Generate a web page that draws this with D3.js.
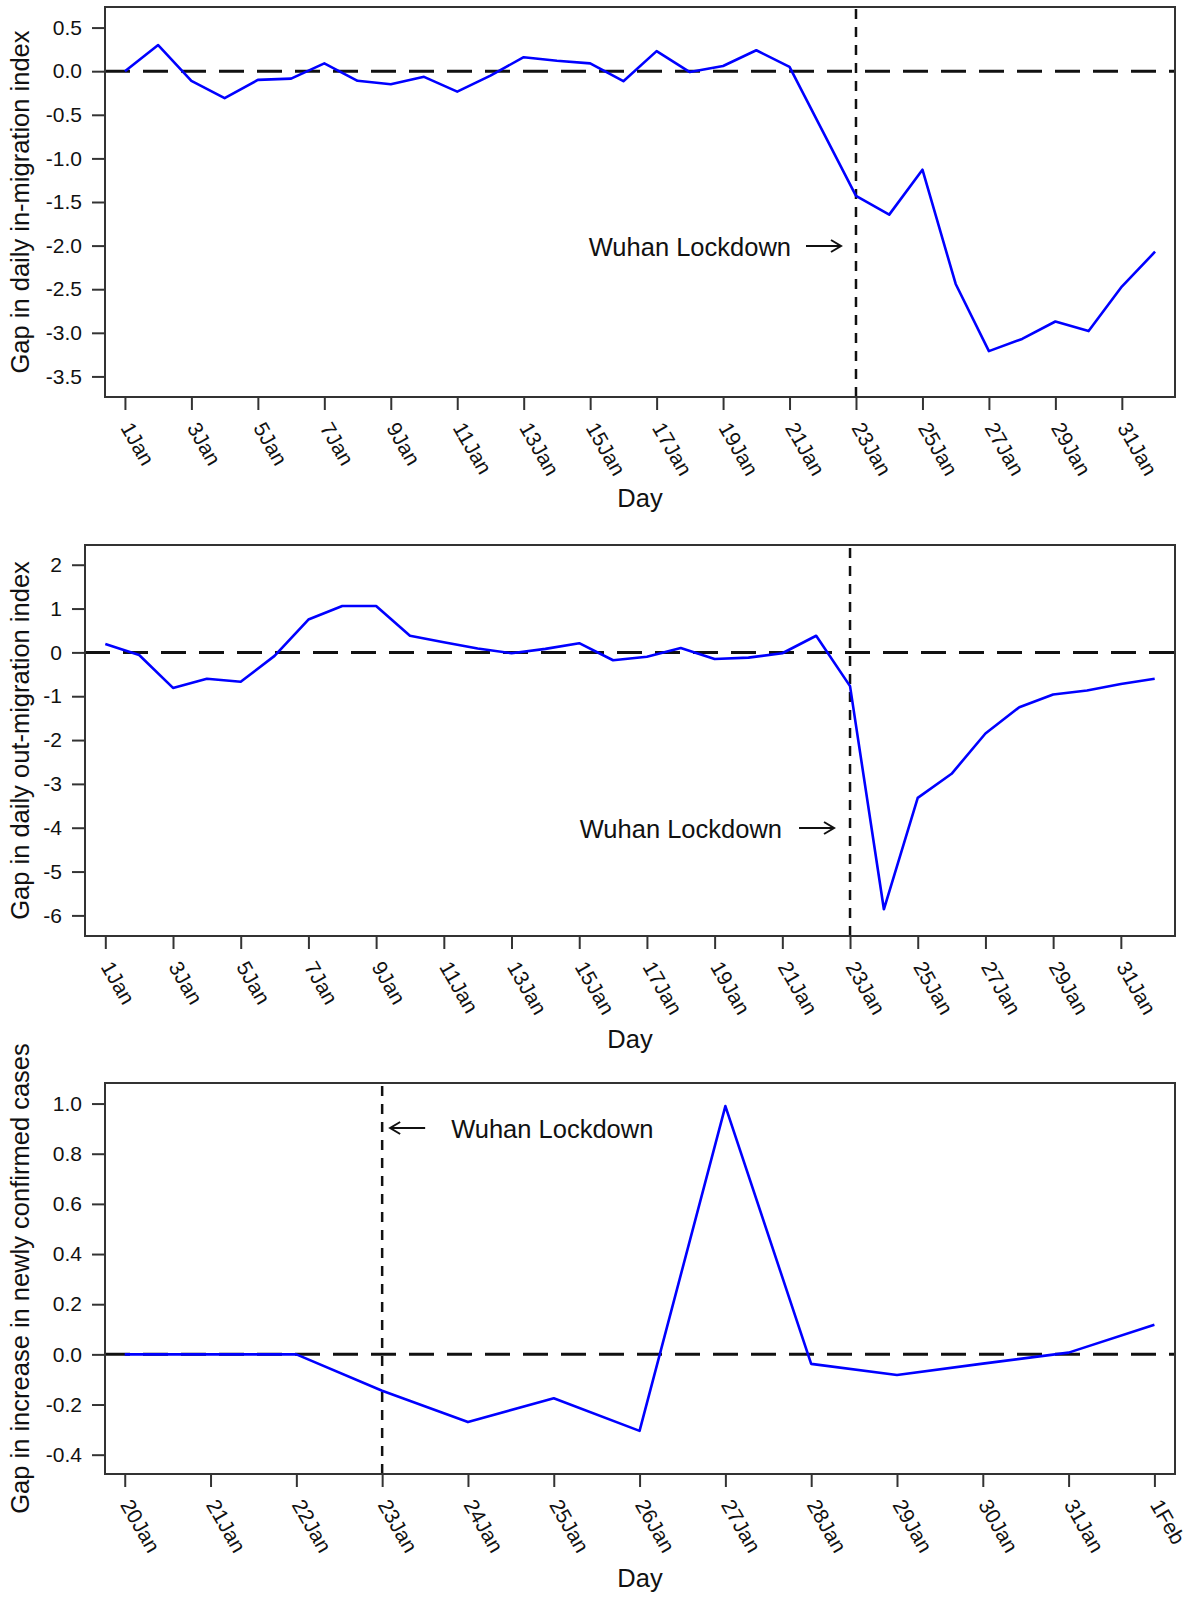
<!DOCTYPE html>
<html>
<head>
<meta charset="utf-8">
<script src="https://cdn.jsdelivr.net/npm/d3@7"></script>
<style>
  html, body { margin: 0; padding: 0; background: #fff; }
  svg { display: block; font-family: "Liberation Sans", Arial, sans-serif; }
</style>
</head>
<body>
<svg id="chart" width="1192" height="1597"></svg>
<script>
// ---------- DATA ----------
const janDays = ["1Jan","2Jan","3Jan","4Jan","5Jan","6Jan","7Jan","8Jan","9Jan","10Jan",
  "11Jan","12Jan","13Jan","14Jan","15Jan","16Jan","17Jan","18Jan","19Jan","20Jan",
  "21Jan","22Jan","23Jan","24Jan","25Jan","26Jan","27Jan","28Jan","29Jan","30Jan","31Jan","1Feb"];
const janTickLabels = ["1Jan","3Jan","5Jan","7Jan","9Jan","11Jan","13Jan","15Jan",
  "17Jan","19Jan","21Jan","23Jan","25Jan","27Jan","29Jan","31Jan"];

const inMigrationGap = [0.00, 0.30, -0.11, -0.31, -0.10, -0.085, 0.09, -0.11, -0.15, -0.065,
  -0.235, -0.05, 0.16, 0.12, 0.09, -0.115, 0.23, -0.01, 0.06, 0.24,
  0.05, -0.69, -1.43, -1.645, -1.13, -2.44, -3.21, -3.07, -2.87, -2.98, -2.47, -2.07];

const outMigrationGap = [0.19, -0.06, -0.81, -0.60, -0.67, -0.08, 0.75, 1.06, 1.06, 0.38,
  0.23, 0.09, -0.02, 0.08, 0.21, -0.18, -0.10, 0.10, -0.15, -0.12,
  -0.02, 0.38, -0.77, -5.86, -3.32, -2.77, -1.85, -1.25, -0.96, -0.87, -0.72, -0.60];

const caseDays = ["20Jan","21Jan","22Jan","23Jan","24Jan","25Jan","26Jan","27Jan",
  "28Jan","29Jan","30Jan","31Jan","1Feb"];
const caseGap = [0.0, 0.0, 0.0, -0.145, -0.27, -0.175, -0.305, 0.99, -0.038, -0.082, -0.037, 0.007, 0.118];

const inYTicks = [0.5, 0.0, -0.5, -1.0, -1.5, -2.0, -2.5, -3.0, -3.5];
const outYTicks = [2, 1, 0, -1, -2, -3, -4, -5, -6];
const caseYTicks = [1.0, 0.8, 0.6, 0.4, 0.2, 0.0, -0.2, -0.4];

const lockdownDay = "23Jan";
const annotationText = "Wuhan Lockdown";
const xTitle = "Day";
const yTitles = ["Gap in daily in-migration index", "Gap in daily out-migration index",
  "Gap in increase in newly confirmed cases"];

// ---------- DRAW ----------
const svg = d3.select("#chart");
svg.append("rect").attr("width", 1192).attr("height", 1597).attr("fill", "#fff");

function fmt(dec) {
  return v => (v < 0 ? "-" : "") + Math.abs(v).toFixed(dec);
}

function drawPanel(cfg) {
  const g = svg.append("g");
  const x = d3.scaleLinear().domain(cfg.xDomain).range([cfg.left, cfg.right]);
  const y = d3.scaleLinear().domain(cfg.yDomain).range([cfg.bottom, cfg.top]);

  // zero line
  g.append("line")
    .attr("x1", cfg.left).attr("x2", cfg.right)
    .attr("y1", y(0)).attr("y2", y(0))
    .attr("stroke", "#111").attr("stroke-width", 3)
    .attr("stroke-dasharray", "25,13");

  // lockdown vertical line
  const vIdx = cfg.labels.indexOf(lockdownDay);
  const vx = x(vIdx);
  g.append("line")
    .attr("x1", vx).attr("x2", vx)
    .attr("y1", cfg.bottom).attr("y2", cfg.top)
    .attr("stroke", "#111").attr("stroke-width", 2.5)
    .attr("stroke-dasharray", "10,8");

  // series
  const line = d3.line().x((d, i) => x(i)).y(d => y(d));
  g.append("path").datum(cfg.values)
    .attr("d", line)
    .attr("fill", "none").attr("stroke", "#0000ff")
    .attr("stroke-width", 2.6).attr("stroke-linejoin", "round");

  // box
  g.append("rect")
    .attr("x", cfg.left).attr("y", cfg.top)
    .attr("width", cfg.right - cfg.left).attr("height", cfg.bottom - cfg.top)
    .attr("fill", "none").attr("stroke", "#333").attr("stroke-width", 2);

  // y axis
  const ya = g.append("g").attr("transform", `translate(${cfg.left},0)`)
    .call(d3.axisLeft(y).tickValues(cfg.yTicks).tickFormat(cfg.yFmt).tickSize(13).tickPadding(10).tickSizeOuter(0));
  ya.select(".domain").remove();
  ya.selectAll(".tick line").attr("stroke", "#333").attr("stroke-width", 2);
  ya.selectAll(".tick text").attr("font-size", 21).attr("fill", "#111")
    .attr("font-family", "Liberation Sans, Arial, sans-serif");

  // x axis
  const tickIdx = cfg.tickLabels.map(l => cfg.labels.indexOf(l));
  const xa = g.append("g").attr("transform", `translate(0,${cfg.bottom})`)
    .call(d3.axisBottom(x).tickValues(tickIdx).tickFormat(i => cfg.labels[i]).tickSize(13).tickSizeOuter(0));
  xa.select(".domain").remove();
  xa.selectAll(".tick line").attr("stroke", "#333").attr("stroke-width", 2);
  xa.selectAll(".tick text")
    .attr("font-size", 21).attr("fill", "#111")
    .attr("font-family", "Liberation Sans, Arial, sans-serif")
    .attr("x", 0).attr("y", 0).attr("dy", null)
    .attr("text-anchor", "start")
    .attr("dominant-baseline", "central")
    .attr("transform", "translate(1,27) rotate(60)");

  // x title
  g.append("text")
    .attr("x", (cfg.left + cfg.right) / 2).attr("y", cfg.dayY)
    .attr("text-anchor", "middle").attr("dominant-baseline", "central")
    .attr("font-size", 25.5).attr("fill", "#111").text(xTitle);

  // y title
  g.append("text")
    .attr("transform", `translate(20,${(cfg.top + cfg.bottom) / 2}) rotate(-90)`)
    .attr("text-anchor", "middle").attr("dominant-baseline", "central")
    .attr("font-size", 25.5).attr("fill", "#111").text(cfg.yTitle);

  // annotation
  const a = cfg.ann;
  const ay = a.y;
  let x1, x2, tip, dir;
  if (a.side === "left") {
    tip = vx + a.gap; dir = -1;
    x1 = tip + 35; x2 = tip;
    g.append("text").attr("x", tip + a.textGap).attr("y", ay + 9.5)
      .attr("text-anchor", "start").attr("font-size", 25.5).attr("fill", "#111").text(annotationText);
  } else {
    tip = vx - a.gap; dir = 1;
    x1 = tip - 35; x2 = tip;
    g.append("text").attr("x", tip - a.textGap).attr("y", ay + 9.5)
      .attr("text-anchor", "end").attr("font-size", 25.5).attr("fill", "#111").text(annotationText);
  }
  g.append("line").attr("x1", x1).attr("x2", x2).attr("y1", ay).attr("y2", ay)
    .attr("stroke", "#111").attr("stroke-width", 2);
  g.append("path")
    .attr("d", `M${tip - dir * 10},${ay - 6} L${tip},${ay} L${tip - dir * 10},${ay + 6}`)
    .attr("fill", "none").attr("stroke", "#111").attr("stroke-width", 2);
}

drawPanel({
  top: 7, bottom: 397, left: 105, right: 1175,
  xDomain: [-0.6, 31.6], yDomain: [-3.736, 0.736],
  values: inMigrationGap, labels: janDays, tickLabels: janTickLabels,
  yTicks: inYTicks, yFmt: fmt(1), yTitle: yTitles[0], dayY: 498,
  ann: { side: "right", y: 246, gap: 15, textGap: 50 }
});

drawPanel({
  top: 545, bottom: 936, left: 85, right: 1175,
  xDomain: [-0.6, 31.6], yDomain: [-6.47, 2.45],
  values: outMigrationGap, labels: janDays, tickLabels: janTickLabels,
  yTicks: outYTicks, yFmt: fmt(0), yTitle: yTitles[1], dayY: 1039,
  ann: { side: "right", y: 828, gap: 16, textGap: 52 }
});

drawPanel({
  top: 1083, bottom: 1474, left: 105, right: 1175,
  xDomain: [-0.23, 12.24], yDomain: [-0.477, 1.082],
  values: caseGap, labels: caseDays, tickLabels: caseDays,
  yTicks: caseYTicks, yFmt: fmt(1), yTitle: yTitles[2], dayY: 1578,
  ann: { side: "left", y: 1128, gap: 8, textGap: 61 }
});
</script>
</body>
</html>
